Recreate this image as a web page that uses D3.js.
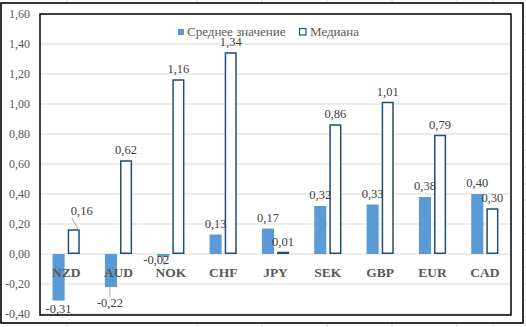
<!DOCTYPE html>
<html><head><meta charset="utf-8">
<script src="https://cdn.jsdelivr.net/npm/d3@7"></script>
<style>body{margin:0;background:#fff}svg{display:block}</style>
</head><body>
<script>
const categories = ["NZD","AUD","NOK","CHF","JPY","SEK","GBP","EUR","CAD"];
const meanValues = [-0.31,-0.22,-0.02,0.13,0.17,0.32,0.33,0.38,0.40];
const medianValues = [0.16,0.62,1.16,1.34,0.01,0.86,1.01,0.79,0.30];
const seriesNames = ["Среднее значение","Медиана"];
const yTicks = [-0.4,-0.2,0,0.2,0.4,0.6,0.8,1.0,1.2,1.4,1.6];
const yTickLabels = ["-0,40","-0,20","0,00","0,20","0,40","0,60","0,80","1,00","1,20","1,40","1,60"];

const W=526,H=327;
const svg=d3.select("body").append("svg").attr("width",W).attr("height",H);
const fmt=v=>v.toFixed(2).replace(".",",");

// faint spreadsheet cell lines outside the chart
const cellX=[67,197,262,327,392,457,493];
cellX.forEach(cx=>{
  svg.append("line").attr("x1",cx).attr("x2",cx).attr("y1",0).attr("y2",2).attr("stroke","#d4d4d4");
  svg.append("line").attr("x1",cx).attr("x2",cx).attr("y1",324).attr("y2",327).attr("stroke","#d4d4d4");
});
[17,34,50,67,84,100,117,134,150,167,184,200,217,234,250,267,284,300,317].forEach(cy=>{
  svg.append("line").attr("x1",524).attr("x2",526).attr("y1",cy).attr("y2",cy).attr("stroke","#d4d4d4");
});

// outer frame
svg.append("rect").attr("x",1).attr("y",3).attr("width",522).attr("height",320)
  .attr("fill","#fff").attr("stroke","#000").attr("stroke-width",1.6);

const L=40,R=511,T=14,B=314;
const y=d3.scaleLinear().domain([-0.4,1.6]).range([B,T]);
const x=d3.scaleBand().domain(categories).range([L,R]).paddingInner(0.48).paddingOuter(0.24);
const x1=d3.scaleBand().domain(["mean","median"]).range([0,x.bandwidth()]).paddingInner(0.2);

// gridlines
svg.append("g").selectAll("line").data(yTicks).join("line")
  .attr("x1",L).attr("x2",R).attr("y1",d=>y(d)).attr("y2",d=>y(d))
  .attr("stroke","#d9d9d9").attr("stroke-width",1);

// y axis labels
const yAxis=svg.append("g").attr("transform","translate(32,0)")
  .call(d3.axisLeft(y).tickValues(yTicks).tickSize(0).tickPadding(2).tickFormat((d,i)=>yTickLabels[i]));
yAxis.select(".domain").remove();
yAxis.selectAll("text").attr("font-family","Liberation Serif").attr("font-size",12).attr("fill","#595959");

// bars
const g=svg.append("g");
g.selectAll("rect.mean").data(meanValues).join("rect").attr("class","mean")
  .attr("x",(d,i)=>x(categories[i])+x1("mean"))
  .attr("width",x1.bandwidth())
  .attr("y",d=>y(Math.max(0,d)))
  .attr("height",d=>Math.abs(y(d)-y(0)))
  .attr("fill","#5b9bd5");
g.selectAll("rect.median").data(medianValues).join("rect").attr("class","median")
  .attr("x",(d,i)=>x(categories[i])+x1("median")+0.75)
  .attr("width",x1.bandwidth()-1.5)
  .attr("y",d=>y(Math.max(0,d)))
  .attr("height",d=>Math.max(0.5,Math.abs(y(d)-y(0))-0.75))
  .attr("fill","#fff").attr("stroke","#1f4e79").attr("stroke-width",1.5);

// category labels
svg.append("g").selectAll("text").data(categories).join("text")
  .attr("x",d=>x(d)+x.bandwidth()/2).attr("y",y(0)+23)
  .attr("text-anchor","middle").attr("font-family","Liberation Serif").attr("font-weight","bold")
  .attr("font-size",13.5).attr("fill","#595959").text(d=>d);

// data labels (with a few displaced labels + leader lines)
const displaced={ "mean-0":null, "median-0":{dx:8,dy:-8}, "mean-1":{dx:-1,dy:7}, "mean-2":{dx:-7,dy:-6} };
function addLabels(vals,key){
  vals.forEach((v,i)=>{
    const cx=x(categories[i])+x1(key)+x1.bandwidth()/2;
    let ty = v>=0 ? y(v)-7 : y(v)+12.5;
    let tx=cx;
    const off=displaced[key+"-"+i];
    if(off){
      tx+=off.dx; ty+=off.dy;
      // leader line
      const barEnd = v>=0? y(v) : y(v);
      let lx1,ly1;
      if(key==="median"){ lx1=tx-10; ly1=ty+3; svg.append("line").attr("x1",lx1).attr("y1",ly1).attr("x2",cx+5).attr("y2",barEnd).attr("stroke","#a6a6a6"); }
      else if(v<-0.1){ svg.append("line").attr("x1",tx).attr("y1",ty-10).attr("x2",cx-1).attr("y2",barEnd).attr("stroke","#a6a6a6"); }
      else { svg.append("line").attr("x1",tx+8).attr("y1",ty+2).attr("x2",cx).attr("y2",barEnd).attr("stroke","#a6a6a6"); }
    }
    svg.append("text").attr("x",tx).attr("y",ty).attr("text-anchor","middle")
      .attr("font-family","Liberation Serif").attr("font-size",12.5).attr("fill","#404040").text(fmt(v));
  });
}
addLabels(meanValues,"mean");
addLabels(medianValues,"median");

// legend
const lg=svg.append("g");
lg.append("rect").attr("x",178).attr("y",29).attr("width",6).attr("height",6).attr("fill","#5b9bd5");
lg.append("text").attr("x",187).attr("y",36).attr("font-family","Liberation Serif").attr("font-size",13).attr("fill","#595959").text(seriesNames[0]);
lg.append("rect").attr("x",299.5).attr("y",28.5).attr("width",6.5).attr("height",6.5).attr("fill","#fff").attr("stroke","#1f4e79").attr("stroke-width",1.2);
lg.append("text").attr("x",310).attr("y",36).attr("font-family","Liberation Serif").attr("font-size",13).attr("fill","#595959").text(seriesNames[1]);

// inner plot frame
svg.append("rect").attr("x",L).attr("y",T).attr("width",R-L).attr("height",B-T+1)
  .attr("fill","none").attr("stroke","#000").attr("stroke-width",1.5);
</script>
</body></html>
